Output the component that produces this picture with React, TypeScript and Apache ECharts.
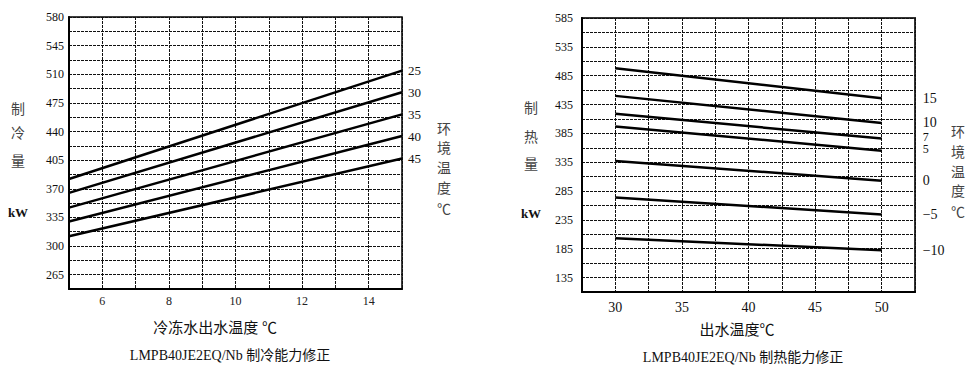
import React, { useEffect, useRef } from "react";
import * as echarts from "echarts";

// Cooling chart (left)
const coolX = [5, 15];
const coolNames = ["25", "30", "35", "40", "45"];
const cool25 = [382, 514.5];
const cool30 = [365, 488];
const cool35 = [347, 461];
const cool40 = [330, 434.5];
const cool45 = [312, 407];
const coolSeries = [cool25, cool30, cool35, cool40, cool45];

// Heating chart (right)
const heatX = [30, 50];
const heatNames = ["15", "10", "7", "5", "0", "−5", "−10"];
const heat15 = [498, 446];
const heat10 = [450, 403];
const heat7 = [419, 376];
const heat5 = [397, 355];
const heat0 = [337, 303];
const heatM5 = [274, 244.5];
const heatM10 = [203, 182.5];
const heatSeries = [heat15, heat10, heat7, heat5, heat0, heatM5, heatM10];

const coolYLabels = [265, 300, 335, 370, 405, 440, 475, 510, 545, 580];
const heatYLabels = [135, 185, 235, 285, 335, 385, 435, 485, 535, 585];
const coolXLabels = [6, 8, 10, 12, 14];
const heatXLabels = [30, 35, 40, 45, 50];

const SERIF = "'Liberation Serif', 'DejaVu Serif', serif";
const CJK = "'Liberation Serif', 'Noto Sans CJK SC', sans-serif";

const near = (list: number[], v: number) => list.some((t) => Math.abs(t - v) < 1e-6);

export default function App() {
  const ref = useRef<HTMLDivElement>(null);
  useEffect(() => {
    document.body.style.margin = "0";
    const chart = echarts.init(ref.current!, null, { renderer: "svg" });
    const split = { show: true, lineStyle: { color: "#111", width: 1, type: [3, 1] as any } };
    const mkText = (text: string, x: number, y: number, size: number, color = "#222", weight = "normal") => ({
      type: "text",
      x,
      y,
      style: {
        text,
        align: "center",
        verticalAlign: "middle",
        font: `${weight} ${size}px ${CJK}`,
        fill: color,
      },
    });
    const heatLabelDy: Record<string, number> = { "7": -2, "5": -2 };
    const heatLabelSize: Record<string, number> = { "15": 14, "10": 14, "7": 12, "5": 12, "0": 14, "−5": 14, "−10": 14 };
    const heatLabelLH: Record<string, number> = { "15": 12, "10": 12, "7": 9, "5": 9, "0": 12, "−5": 12, "−10": 12 };
    chart.setOption({
      animation: false,
      grid: [
        { left: 69, top: 17, width: 333, height: 272, show: true, borderColor: "#000", borderWidth: 1.5 },
        { left: 582, top: 18, width: 333, height: 274, show: true, borderColor: "#333", borderWidth: 2 },
      ],
      xAxis: [
        {
          gridIndex: 0,
          type: "value",
          min: 5,
          max: 15,
          interval: 1,
          axisLine: { lineStyle: { color: "#000", width: 2 } },
          axisTick: { show: false },
          splitLine: split,
          axisLabel: {
            margin: 6,
            fontFamily: SERIF,
            fontSize: 12,
            color: "#222",
            formatter: (v: number) => (near(coolXLabels, v) ? String(v) : ""),
          },
        },
        {
          gridIndex: 1,
          type: "value",
          min: 27.5,
          max: 52.5,
          interval: 2.5,
          axisLine: { lineStyle: { color: "#000", width: 2 } },
          axisTick: { show: false },
          splitLine: split,
          axisLabel: {
            margin: 8,
            fontFamily: SERIF,
            fontSize: 14,
            color: "#111",
            formatter: (v: number) => (near(heatXLabels, v) ? String(v) : ""),
          },
        },
      ],
      yAxis: [
        {
          gridIndex: 0,
          type: "value",
          min: 247.5,
          max: 580,
          interval: 17.5,
          axisLine: { show: true, lineStyle: { color: "#000", width: 2 } },
          axisTick: { show: false },
          splitLine: split,
          axisLabel: {
            margin: 5,
            fontFamily: SERIF,
            fontSize: 12,
            color: "#111",
            formatter: (v: number) => (near(coolYLabels, v) ? String(v) : ""),
          },
        },
        {
          gridIndex: 1,
          type: "value",
          min: 110,
          max: 585,
          interval: 25,
          axisLine: { show: true, lineStyle: { color: "#000", width: 2 } },
          axisTick: { show: false },
          splitLine: split,
          axisLabel: {
            margin: 9,
            fontFamily: SERIF,
            fontSize: 12,
            color: "#111",
            formatter: (v: number) => (near(heatYLabels, v) ? String(v) : ""),
          },
        },
      ],
      series: [
        ...coolSeries.map((vals, i) => ({
          type: "line",
          name: coolNames[i],
          xAxisIndex: 0,
          yAxisIndex: 0,
          data: vals.map((v, j) => [coolX[j], v]),
          symbol: "none",
          lineStyle: { color: "#000", width: 2.5 },
          endLabel: {
            show: true,
            formatter: coolNames[i],
            distance: 6,
            fontFamily: SERIF,
            fontSize: 13,
            color: "#111",
          },
        })),
        ...heatSeries.map((vals, i) => ({
          type: "line",
          name: heatNames[i],
          xAxisIndex: 1,
          yAxisIndex: 1,
          data: vals.map((v, j) => [heatX[j], v]),
          symbol: "none",
          lineStyle: { color: "#000", width: 2.5 },
          endLabel: {
            show: true,
            formatter: heatNames[i],
            distance: 41,
            offset: [0, heatLabelDy[heatNames[i]] || 0],
            fontFamily: SERIF,
            fontSize: heatLabelSize[heatNames[i]],
            lineHeight: heatLabelLH[heatNames[i]],
            color: "#111",
          },
        })),
      ],
      graphic: [
        mkText("制", 18, 109, 14, "#444"),
        mkText("冷", 18, 133, 14, "#444"),
        mkText("量", 18, 161, 14, "#444"),
        mkText("kW", 18, 212, 13, "#111", "bold"),
        mkText("环", 444, 129, 14, "#444"),
        mkText("境", 444, 148, 14, "#444"),
        mkText("温", 444, 168, 14, "#444"),
        mkText("度", 444, 188, 14, "#444"),
        mkText("℃", 444, 209, 14, "#444"),
        mkText("冷冻水出水温度 ℃", 215, 328, 15, "#111"),
        mkText("LMPB40JE2EQ/Nb 制冷能力修正", 230, 355, 14, "#111"),
        mkText("制", 531, 108, 14, "#444"),
        mkText("热", 531, 137, 14, "#444"),
        mkText("量", 531, 164, 14, "#444"),
        mkText("kW", 531, 213, 13, "#111", "bold"),
        mkText("环", 958, 132, 14, "#444"),
        mkText("境", 958, 152, 14, "#444"),
        mkText("温", 958, 172, 14, "#444"),
        mkText("度", 958, 191, 14, "#444"),
        mkText("℃", 958, 212, 14, "#444"),
        mkText("出水温度℃", 737, 330, 15, "#111"),
        mkText("LMPB40JE2EQ/Nb 制热能力修正", 743, 357, 14, "#111"),
      ],
    });
    return () => chart.dispose();
  }, []);
  return (
    <div
      ref={ref}
      style={{ position: "absolute", left: 0, top: 0, width: 978, height: 373, background: "#fff" }}
    />
  );
}
